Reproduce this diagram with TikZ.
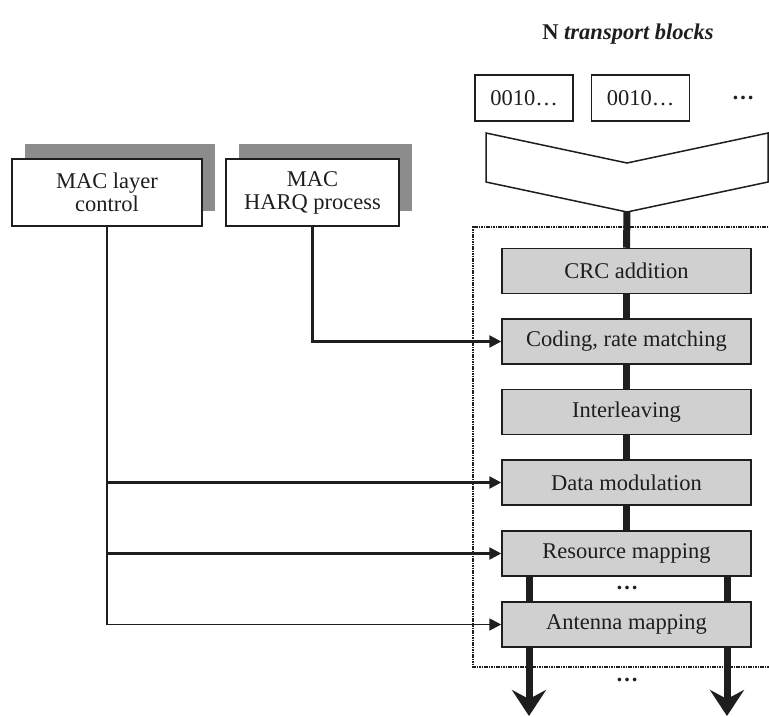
\documentclass[tikz,border=0pt]{standalone}
\usepackage{fontspec}
\setmainfont{Liberation Serif}
\usetikzlibrary{arrows.meta}
\definecolor{boxgray}{RGB}{208,208,208}
\definecolor{shadowgray}{RGB}{140,140,140}
\definecolor{ink}{RGB}{30,30,30}
\begin{document}
\begin{tikzpicture}[x=1pt,y=-1pt,
  every node/.style={font=\fontsize{22.5}{23}\selectfont, text=ink},
  tbox/.style={draw=ink, line width=1.5pt, fill=white, minimum width=98pt, minimum height=46pt, inner sep=0pt},
  macbox/.style={draw=ink, line width=1.5pt, fill=white, minimum height=67pt, inner sep=0pt, align=center},
  shadowbox/.style={fill=shadowgray, minimum height=67pt, inner sep=0pt},
  procbox/.style={draw=ink, line width=1.5pt, fill=boxgray, minimum width=249pt, minimum height=45pt, inner sep=0pt},
  flow/.style={draw=ink, line width=7pt},
  outflow/.style={draw=ink, line width=7pt, -{Stealth[length=26pt,width=34pt,inset=9pt]}},
  ctl/.style={draw=ink, line width=2.5pt},
  ctlarrow/.style={ctl, -{Triangle[length=12pt,width=12pt]}},
  frame/.style={draw=ink, line width=1.8pt, dash pattern=on 1.6pt off 0.8pt}
]
\useasboundingbox (0,0) rectangle (769,716);

% heading and the incoming transport blocks
\node (title) at (628,34) {\textbf{N \textit{transport blocks}}};
\node[tbox] (tb1) at (524,98) {0010…};
\node[tbox] (tb2) at (640.5,98) {0010…};
\node (tbdots) at (743,98) {\textbf{…}};

% merging funnel
\draw[ink, line width=1.5pt, fill=white]
  (486,133) -- (627,163) -- (768,133) -- (768,182) -- (627,212) -- (486,182) -- cycle;
\coordinate (funnel) at (627,212);

% dotted frame of the transport channel processing
\draw[frame] (790,227) -- (473,227) -- (473,667) -- (790,667);

% processing chain
\node[procbox] (crc) at (626.5,271) {CRC addition};
\node[procbox] (coding) at (626.5,341.5) {Coding, rate matching};
\node[procbox] (inter) at (626.5,412) {Interleaving};
\node[procbox] (dmod) at (626.5,482.5) {Data modulation};
\node[procbox] (resmap) at (626.5,553.5) {Resource mapping};
\node[procbox] (antmap) at (626.5,624.5) {Antenna mapping};
\node (middots) at (627,588) {\textbf{…}};
\node (outdots) at (627,680) {\textbf{…}};

% thick data path
\draw[flow] (funnel) -- (crc.north);
\draw[flow] (crc.south) -- (coding.north);
\draw[flow] (coding.south) -- (inter.north);
\draw[flow] (inter.south) -- (dmod.north);
\draw[flow] (dmod.south) -- (resmap.north);
\coordinate (rl) at (529,0);
\coordinate (rr) at (727,0);
\draw[flow] (rl |- resmap.south) -- (rl |- antmap.north);
\draw[flow] (rr |- resmap.south) -- (rr |- antmap.north);
\coordinate (outl) at (529,716);
\coordinate (outr) at (727,716);
\draw[outflow] (rl |- antmap.south) -- (outl);
\draw[outflow] (rr |- antmap.south) -- (outr);

% MAC entities with their shadows
\node[shadowbox, minimum width=190pt] (macsh) at (120,177.5) {};
\node[macbox, minimum width=190pt] (mac) at (107,192.5) {MAC layer\\control};
\node[shadowbox, minimum width=173pt] (harqsh) at (325.5,177.5) {};
\node[macbox, minimum width=173pt] (harq) at (312.5,192.5) {MAC\\HARQ process};

% control connections
\draw[ctl] (mac.south) -- (mac.south |- antmap.west);
\draw[ctlarrow] (mac.south |- dmod.west) -- (dmod.west);
\draw[ctlarrow] (mac.south |- resmap.west) -- (resmap.west);
\draw[ctlarrow, line width=1.8pt] (mac.south |- antmap.west) -- (antmap.west);
\draw[ctlarrow] (harq.south) |- (coding.west);
\end{tikzpicture}
\end{document}
